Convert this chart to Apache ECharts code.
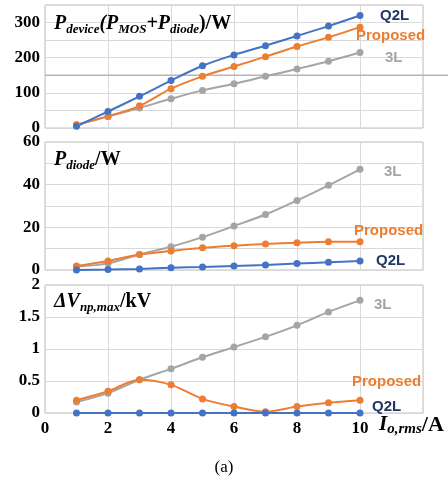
<!DOCTYPE html>
<html>
<head>
<meta charset="utf-8">
<script src="https://cdn.jsdelivr.net/npm/echarts@6/dist/echarts.min.js"></script>
<style>
html, body { margin: 0; padding: 0; background: #fff; }
#chart { width: 448px; height: 490px; }
</style>
</head>
<body>
<div id="chart"></div>
<script>
// x values (I_o,rms / A)
const current = [1, 2, 3, 4, 5, 6, 7, 8, 9, 10];

// panel 1: P_device / W
const deviceQ2L = [5, 47, 90, 135, 177, 208, 234, 262, 290, 320];
const deviceProposed = [9, 33, 63, 112, 147, 175, 203, 232, 258, 287];
const device3L = [9, 33, 57, 83, 107, 126, 147, 168, 190, 215];

// panel 2: P_diode / W
const diode3L = [1.6, 3.1, 7.3, 10.9, 15.4, 20.6, 26, 32.6, 39.7, 47.2];
const diodeProposed = [1.9, 4.2, 7.3, 8.9, 10.4, 11.4, 12.2, 12.8, 13.2, 13.2];
const diodeQ2L = [0, 0.2, 0.5, 1.1, 1.4, 1.9, 2.3, 3.0, 3.6, 4.2];

// panel 3: ΔV_np,max / kV
const dv3L = [0.17, 0.31, 0.52, 0.69, 0.87, 1.03, 1.19, 1.37, 1.58, 1.76];
const dvProposed = [0.2, 0.34, 0.52, 0.44, 0.22, 0.10, 0.02, 0.10, 0.16, 0.2];
const dvQ2L = [0, 0, 0, 0, 0, 0, 0, 0, 0, 0];

const BLUE = '#4472C4', ORANGE = '#ED7D31', GRAY = '#A5A5A5';
const LABEL_COLOR = { Q2L: '#1F3864', Proposed: '#ED7D31', '3L': '#A5A5A5' };

const pairs = (ys) => current.map((x, i) => [x, ys[i]]);

const serif = 'Liberation Serif';
const tickFont = { fontFamily: serif, fontWeight: 'bold', fontSize: 17, color: '#000' };

// rich styles for the panel titles (with subscripts)
const rich = {
    m: { fontFamily: serif, fontWeight: 'bold', fontStyle: 'italic', fontSize: 20, lineHeight: 24, color: '#000' },
    s: { fontFamily: serif, fontWeight: 'bold', fontStyle: 'italic', fontSize: 13, lineHeight: 8, verticalAlign: 'bottom', color: '#000' },
    u: { fontFamily: serif, fontWeight: 'bold', fontSize: 20, lineHeight: 24, color: '#000' },
    // slightly larger set for the x axis name
    mx: { fontFamily: serif, fontWeight: 'bold', fontStyle: 'italic', fontSize: 21, lineHeight: 24, color: '#000' },
    sx: { fontFamily: serif, fontWeight: 'bold', fontStyle: 'italic', fontSize: 15, lineHeight: 8, verticalAlign: 'bottom', color: '#000' },
    ux: { fontFamily: serif, fontWeight: 'bold', fontSize: 22, lineHeight: 24, color: '#000' }
};

const grids = [
    { left: 45, top: 5, width: 378, height: 123 },
    { left: 45, top: 142, width: 378, height: 128 },
    { left: 45, top: 285, width: 378, height: 128 }
].map(g => Object.assign(g, { show: true, borderColor: '#bfbfbf', borderWidth: 1, backgroundColor: '#fff' }));

const xAxes = [0, 1, 2].map(i => ({
    type: 'value',
    gridIndex: i,
    min: 0,
    max: 12,
    interval: 2,
    axisLine: { show: false },
    axisTick: { show: false },
    splitLine: { lineStyle: { color: '#d9d9d9' } },
    axisLabel: {
        show: i === 2,
        margin: 7,
        ...tickFont,
        formatter: v => (v === 12 ? '' : v)
    }
}));

const yRanges = [
    { max: 350, interval: 50, step: 100 },
    { max: 60, interval: 10, step: 20 },
    { max: 2, interval: 0.5, step: 0.5 }
];

const yAxes = yRanges.map((r, i) => ({
    type: 'value',
    gridIndex: i,
    min: 0,
    max: r.max,
    interval: r.interval,
    axisLine: { show: false },
    axisTick: { show: false },
    splitLine: { lineStyle: { color: '#d9d9d9' } },
    axisLabel: {
        margin: 5,
        ...tickFont,
        formatter: v => {
            const k = v / r.step;
            return Math.abs(k - Math.round(k)) < 1e-6 && v <= r.max - (i === 0 ? 50 : 0) ? String(v) : '';
        }
    }
}));

function line(name, data, color, gi, offset) {
    return {
        name: name,
        type: 'line',
        xAxisIndex: gi,
        yAxisIndex: gi,
        data: pairs(data),
        smooth: 0.3,
        symbol: 'circle',
        symbolSize: 7,
        lineStyle: { color: color, width: 2 },
        itemStyle: { color: color },
        endLabel: {
            show: true,
            formatter: name,
            distance: 0,
            offset: offset,
            fontFamily: 'Liberation Sans',
            fontWeight: 'bold',
            fontSize: 15,
            color: LABEL_COLOR[name]
        }
    };
}

const series = [
    line('3L', device3L, GRAY, 0, [25, 5]),
    line('Proposed', deviceProposed, ORANGE, 0, [-4, 9]),
    line('Q2L', deviceQ2L, BLUE, 0, [20, 0]),
    line('3L', diode3L, GRAY, 1, [24, 3]),
    line('Proposed', diodeProposed, ORANGE, 1, [-6, -11]),
    line('Q2L', diodeQ2L, BLUE, 1, [16, 0]),
    line('3L', dv3L, GRAY, 2, [14, 4]),
    line('Proposed', dvProposed, ORANGE, 2, [-8, -18]),
    line('Q2L', dvQ2L, BLUE, 2, [12, -6])
];

const titles = [
    { left: 54, top: 12, text: '{m|P}{s|device}{m|(P}{s|MOS}{m|+P}{s|diode}{u|)/W}' },
    { left: 54, top: 148, text: '{m|P}{s|diode}{u|/W}' },
    { left: 54, top: 290, text: '{m|ΔV}{s|np,max}{u|/kV}' },
    { left: 379, top: 413, text: '{mx|I}{sx|o,rms}{ux|/A}' }
].map(t => ({ left: t.left, top: t.top, text: t.text, padding: 0, textStyle: { rich: rich } }));

titles.push({
    text: '(a)',
    left: 'center',
    top: 459,
    padding: 0,
    textStyle: { fontFamily: serif, fontWeight: 'normal', fontSize: 17, color: '#000' }
});

const myChart = echarts.init(document.getElementById('chart'));
myChart.setOption({
    animation: false,
    backgroundColor: '#fff',
    title: titles,
    grid: grids,
    xAxis: xAxes,
    yAxis: yAxes,
    series: series
});

// the scan has a darker line across the top panel at the 150 W level
const p = myChart.convertToPixel({ gridIndex: 0 }, [0, 150]);
myChart.setOption({
    graphic: [{
        type: 'line',
        shape: { x1: p[0], y1: p[1], x2: 448, y2: p[1] },
        style: { stroke: '#b5b5b5', lineWidth: 1.5 },
        z: 1
    }]
});
</script>
</body>
</html>
